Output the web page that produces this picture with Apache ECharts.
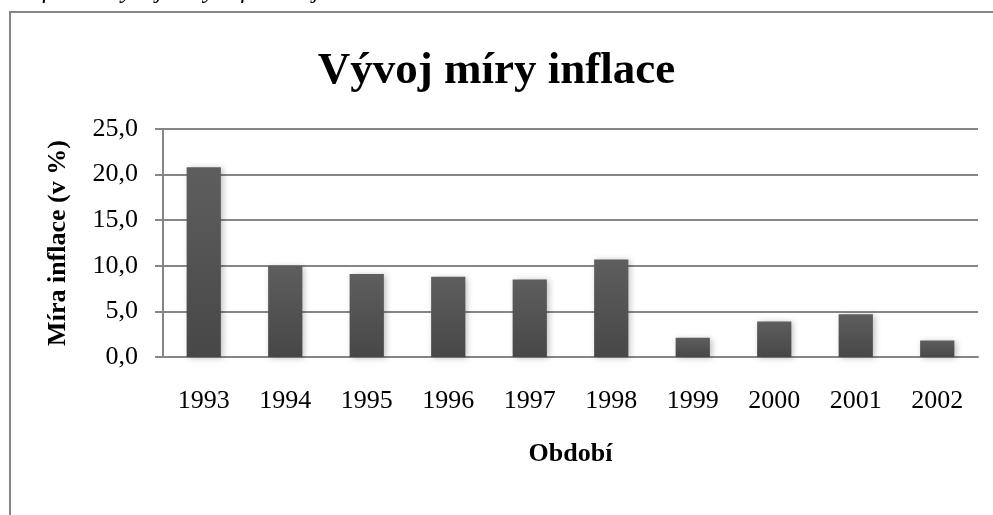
<!DOCTYPE html>
<html><head><meta charset="utf-8">
<script src="https://cdn.jsdelivr.net/npm/echarts@6/dist/echarts.min.js"></script>
<style>html,body{margin:0;padding:0;background:#fff}#c{width:993px;height:515px}</style>
</head><body><div id="c"></div>
<script>
const categories = ['1993','1994','1995','1996','1997','1998','1999','2000','2001','2002'];
const inflation = [20.8, 10.0, 9.1, 8.8, 8.5, 10.7, 2.1, 3.9, 4.7, 1.8];
const yTicks = [0, 5, 10, 15, 20, 25];

const serif = '"Liberation Serif", "Times New Roman", serif';
const chart = echarts.init(document.getElementById('c'), null, {renderer: 'canvas'});
chart.setOption({
  animation: false,
  backgroundColor: '#fff',
  title: {
    text: 'Vývoj míry inflace', left: 'center', top: 44,
    textStyle: {fontFamily: serif, fontSize: 45, fontWeight: 'bold', color: '#000'}
  },
  graphic: [
    {type: 'rect', shape: {x: 10, y: 12, width: 1000, height: 520}, style: {fill: 'none', stroke: '#868686', lineWidth: 2}, z: 0},
    {type: 'text', x: 2, y: -9, style: {text: 'Graf č. 1: Vývoj míry inflace v jednotlivá období', font: 'italic 25px ' + serif, fill: '#000', verticalAlign: 'middle'}}
  ],
  grid: {left: 163, right: 15, top: 129, bottom: 158},
  xAxis: {
    type: 'category', data: categories,
    axisLine: {lineStyle: {color: '#868686', width: 2}},
    axisTick: {show: false},
    axisLabel: {fontFamily: serif, fontSize: 26, color: '#000', margin: 31},
    name: 'Období', nameLocation: 'middle', nameGap: 84,
    nameTextStyle: {fontFamily: serif, fontSize: 26, fontWeight: 'bold', color: '#000'}
  },
  yAxis: {
    type: 'value', min: yTicks[0], max: yTicks[yTicks.length - 1], interval: 5,
    axisLine: {show: true, lineStyle: {color: '#868686', width: 2}},
    axisTick: {show: true, length: 8, lineStyle: {color: '#868686', width: 2}},
    splitLine: {lineStyle: {color: '#868686', width: 2}},
    axisLabel: {fontFamily: serif, fontSize: 26, color: '#000', margin: 25,
      formatter: v => v.toFixed(1).replace('.', ',')},
    name: 'Míra inflace (v %)', nameLocation: 'middle', nameGap: 92, nameRotate: 90,
    nameTextStyle: {fontFamily: serif, fontSize: 26, fontWeight: 'bold', color: '#000'}
  },
  series: [{
    type: 'bar', data: inflation, barWidth: '42%',
    itemStyle: {
      color: new echarts.graphic.LinearGradient(0, 0, 0, 1, [
        {offset: 0, color: '#5e5e5e'}, {offset: 1, color: '#474747'}
      ]),
      shadowColor: 'rgba(0,0,0,0.25)', shadowBlur: 6, shadowOffsetX: 2, shadowOffsetY: 1
    }
  }]
});
</script></body></html>
